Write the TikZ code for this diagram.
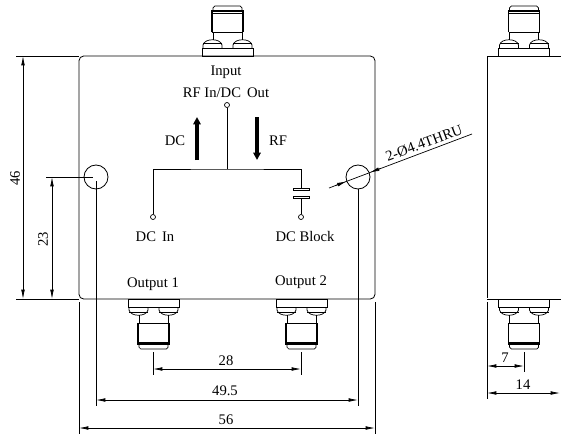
\documentclass[tikz,border=0pt]{standalone}
\usepackage{fontspec}
\setmainfont{Liberation Serif}
\usepgflibrary{arrows.meta}

\tikzset{
  dimline/.style={line width=.6pt,{Latex[length=2.8mm,width=1.1mm]}-{Latex[length=2.8mm,width=1.1mm]}},
  extline/.style={line width=.6pt},
  label/.style={inner sep=0pt,font=\fontsize{12.5}{14}\selectfont},
  port/.style={circle,draw,line width=.6pt,fill=white,inner sep=0pt,minimum size=1.5mm},
  hole/.style={circle,draw,line width=.7pt,inner sep=0pt,minimum size=7.2mm},
  flow/.style={line width=1.1mm,-{Triangle[length=2.2mm,width=2.2mm]}},
  connector/.pic={
    \draw[line width=.6pt] (-25.5,0) rectangle (25.5,-8);
    \foreach \side in {-1,1} {
      \draw[line width=.6pt,xscale=\side] (5.5,-8) -- (5.5,-11) .. controls (7,-18) and (23,-18) .. (24.5,-11) -- (24.5,-8);
      \draw[line width=.6pt,xscale=\side] (5.5,-13) -- (24.5,-13);
      \draw[line width=.6pt,xscale=\side] (14.5,-16) -- (14.5,-24);
    }
    \draw[line width=.7pt] (-15.5,-24) -- (15.5,-24);
    \draw[line width=.3pt] (-15.5,-43) -- (15.5,-43);
    \draw[line width=1pt] (-15.5,-24) -- (-15.5,-45) -- (15.5,-45) -- (15.5,-24);
    \draw[line width=.6pt,rounded corners=1.5pt] (-14.5,-45) -- (-14.5,-50) -- (14.5,-50) -- (14.5,-45);
  }
}

\begin{document}
\begin{tikzpicture}[x=.03cm,y=-.03cm]
  \clip (0,0) rectangle (561,438);

  % housing, front and side
  \draw[line width=.7pt,rounded corners=4pt] (79,56) rectangle (375,299);
  \draw[line width=.7pt] (487,298) -- (487,56) -- (565,56);
  \draw[line width=.7pt] (487,299) -- (565,299);

  % connectors
  \pic at (227.5,56) {connector};
  \pic at (524,56) {connector};
  \pic[yscale=-1] at (153.5,299) {connector};
  \pic[yscale=-1] at (301.5,299) {connector};
  \pic[yscale=-1] at (524,299) {connector};

  % mounting holes
  \node[hole] (holeL) at (96,177) {};
  \node[hole] (holeR) at (358,177) {};

  % circuit
  \node[port] (rfIn) at (227,105) {};
  \node[port] (dcIn) at (153,217) {};
  \node[port] (dcBlock) at (301,217) {};
  \coordinate (tee) at (227,169);
  \coordinate (capTop) at (301,189);
  \coordinate (capBot) at (301,197);
  \draw[line width=.7pt] (rfIn) -- (tee);
  \draw[line width=.7pt] (dcIn) |- (tee) -| (capTop);
  \draw[line width=.7pt] (capBot) -- (dcBlock);
  \draw[line width=.6pt,fill=white] (293,188) rectangle (309,190.5);
  \draw[line width=.6pt,fill=white] (293,196) rectangle (309,198.5);
  \draw[flow] (197,160) -- (197,117);
  \draw[flow] (257,117) -- (257,160);

  \node[label] (input) at (226,72) {Input};
  \node[label] (rfInText) at (226,93) {RF In/DC\, Out};
  \node[label] (dcText) at (175,141) {DC};
  \node[label] (rfText) at (278,141) {RF};
  \node[label] (dcInText) at (155,237) {DC\, In};
  \node[label] (dcBlockText) at (305,236) {DC Block};
  \node[label] (out1) at (153,284) {Output 1};
  \node[label] (out2) at (301,282) {Output 2};

  % extension lines
  \draw[extline] (16,56) -- (79,56);
  \draw[extline] (16,299) -- (79,299);
  \draw[extline] (46,177) -- (93,177);
  \draw[extline] (96,181) -- (96,406);
  \draw[extline] (holeR.south) -- (358,406);
  \draw[extline] (79,302) -- (79,434);
  \draw[extline] (375,302) -- (375,434);
  \draw[extline] (153,352) -- (153,375);
  \draw[extline] (301,352) -- (301,375);
  \draw[extline] (487,302) -- (487,399);
  \draw[extline] (524,352) -- (524,372);

  % dimensions
  \draw[dimline] (23,56) -- (23,299);
  \draw[dimline] (52,177) -- (52,299);
  \draw[dimline] (153,369) -- (301,369);
  \draw[dimline] (96,400) -- (358,400);
  \draw[dimline] (79,428) -- (375,428);
  \draw[dimline] (487,366) -- (524,366);
  \draw[dimline] (487,393) -- (560,393);

  \node[label,rotate=90] (dim46) at (15,178) {46};
  \node[label,rotate=90] (dim23) at (43,239) {23};
  \node[label] (dim28) at (226,361) {28};
  \node[label] (dim49) at (225,391) {49.5};
  \node[label] (dim56) at (226,420) {56};
  \node[label] (dim7) at (505,358) {7};
  \node[label] (dim14) at (523,385) {14};

  % hole callout
  \coordinate (leadA) at (329,188);
  \coordinate (leadB) at (472,134);
  \draw[extline] (leadA) -- (leadB);
  \draw[line width=.6pt,-{Latex[length=2.8mm,width=1.1mm]}] (335,185.7) -- (346.5,181.4);
  \draw[line width=.6pt,-{Latex[length=2.8mm,width=1.1mm]}] (381,168.3) -- (370,172.4);
  \node[label,rotate=20.5] (callout) at (424,143) {2-Ø4.4THRU};
\end{tikzpicture}
\end{document}
